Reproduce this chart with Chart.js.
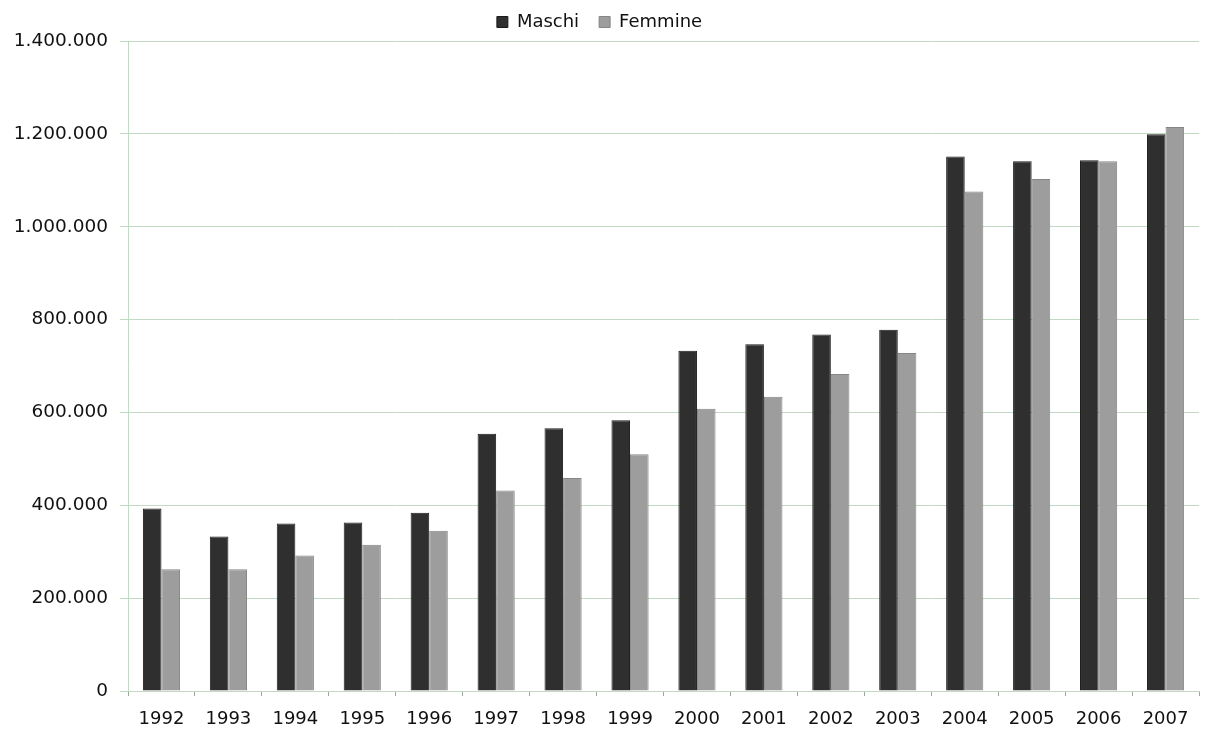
<!DOCTYPE html>
<html lang="it">
<head>
<meta charset="utf-8">
<title>Maschi e Femmine 1992-2007</title>
<script src="https://cdn.jsdelivr.net/npm/chart.js@4/dist/chart.umd.min.js"></script>
<style>
  html, body { margin: 0; padding: 0; background: #ffffff; }
  #wrap { width: 1209px; height: 731px; position: relative; }
</style>
</head>
<body>
<div id="wrap"><canvas id="chart" width="1209" height="731"></canvas></div>
<script>
// Anni
const anni = ['1992', '1993', '1994', '1995', '1996', '1997', '1998', '1999',
              '2000', '2001', '2002', '2003', '2004', '2005', '2006', '2007'];

// Valori per serie
const maschi = [393000, 333000, 361000, 363000, 384000, 554000, 566000, 583000,
                733000, 747000, 768000, 778000, 1151000, 1141000, 1143000, 1199000];
const femmine = [262000, 262000, 292000, 315000, 345000, 432000, 459000, 510000,
                 608000, 634000, 683000, 728000, 1076000, 1103000, 1141000, 1215000];

// Scala verticale
const yMin = 0;
const yMax = 1400000;
const yStep = 200000;

// Separatore delle migliaia con il punto
function formatta(v) {
  return String(Math.round(v)).replace(/\B(?=(\d{3})+(?!\d))/g, '.');
}

const FONT = 'DejaVu Sans, Verdana, sans-serif';
const GRID = '#c2dac2';

new Chart(document.getElementById('chart'), {
  type: 'bar',
  data: {
    labels: anni,
    datasets: [
      {
        label: 'Maschi',
        data: maschi,
        backgroundColor: '#2f2f2f',
        borderColor: '#1c1c1c',
        borderWidth: 1,
        categoryPercentage: 0.555,
        barPercentage: 1.0
      },
      {
        label: 'Femmine',
        data: femmine,
        backgroundColor: '#9d9d9d',
        borderColor: '#858585',
        borderWidth: 1,
        categoryPercentage: 0.555,
        barPercentage: 1.0
      }
    ]
  },
  options: {
    responsive: false,
    animation: false,
    layout: { padding: { left: 0, right: 10, top: -7, bottom: 0 } },
    plugins: {
      legend: {
        position: 'top',
        labels: {
          boxWidth: 11,
          boxHeight: 11,
          padding: 20,
          color: '#111111',
          font: { family: FONT, size: 18 }
        }
      },
      tooltip: { enabled: false }
    },
    scales: {
      x: {
        offset: true,
        grid: {
          display: true,
          drawOnChartArea: false,
          drawTicks: true,
          tickLength: 5,
          color: '#9aa89a'
        },
        border: { display: true, color: GRID, width: 1 },
        ticks: {
          color: '#111111',
          padding: 13,
          maxRotation: 0,
          font: { family: FONT, size: 18 }
        },
        afterFit: function (scale) { scale.height = 40; }
      },
      y: {
        min: yMin,
        max: yMax,
        grid: {
          color: GRID,
          lineWidth: 1,
          tickLength: 8,
          drawTicks: true
        },
        border: { display: true, color: GRID, width: 1 },
        ticks: {
          stepSize: yStep,
          color: '#111111',
          padding: 12,
          font: { family: FONT, size: 18.5 },
          callback: function (v) { return formatta(v); }
        },
        afterFit: function (scale) { scale.width = 128; }
      }
    }
  }
});
</script>
</body>
</html>
